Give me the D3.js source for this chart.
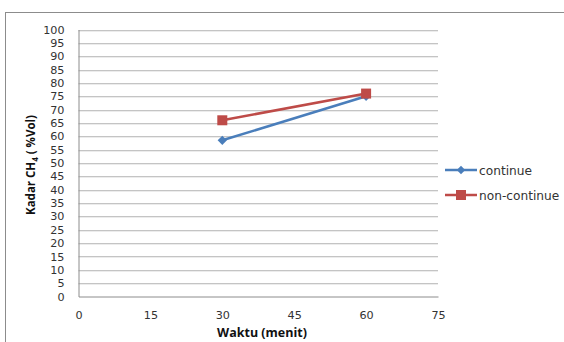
<!DOCTYPE html>
<html><head><meta charset="utf-8">
<script src="https://cdn.jsdelivr.net/npm/d3@7"></script>
<style>body{margin:0;background:#fff}svg{display:block}</style>
</head><body>
<svg id="c" width="564" height="342"></svg>
<script>
const xValues = [30, 60];
const continueValues = [58.5, 75];
const nonContinueValues = [66, 76];
const xTicks = [0, 15, 30, 45, 60, 75];
const yTicks = d3.range(0, 101, 5);
const seriesNames = ["continue", "non-continue"];
const colors = ["#4a7ebb", "#be4b48"];

const svg = d3.select("#c");
const font = "'DejaVu Sans', Verdana, sans-serif";
const tfont = "'Open Sans', 'DejaVu Sans', sans-serif";
svg.append("rect").attr("x", 5.5).attr("y", 12.5).attr("width", 600).attr("height", 400)
  .attr("fill", "#fff").attr("stroke", "#8c8c8c").attr("stroke-width", 1);

const x = d3.scaleLinear().domain([0, 75]).range([78.5, 438]);
const y = d3.scaleLinear().domain([0, 100]).range([296.5, 29.5]);

// gridlines
svg.append("g").selectAll("line").data(yTicks.filter(d => d > 0)).join("line")
  .attr("x1", x(0)).attr("x2", x(75)).attr("y1", d => Math.round(y(d)) + 0.5).attr("y2", d => Math.round(y(d)) + 0.5)
  .attr("stroke", "#c4c4c4").attr("stroke-width", 1);
svg.append("g").selectAll("line").data(yTicks.filter(d => d > 0)).join("line")
  .attr("x1", x(0)).attr("x2", x(75)).attr("y1", d => Math.round(y(d)) + 1.5).attr("y2", d => Math.round(y(d)) + 1.5)
  .attr("stroke", "#ececec").attr("stroke-width", 1);

// axes
const yAxis = d3.axisLeft(y).tickValues(yTicks).tickSize(0).tickPadding(14);
const gy = svg.append("g").attr("transform", `translate(${x(0)},0)`).call(yAxis);
gy.select(".domain").attr("stroke", "#8c8c8c");
gy.selectAll("text").attr("font-family", font).attr("font-size", 11.2).attr("fill", "#333");

const xAxis = d3.axisBottom(x).tickValues(xTicks).tickSize(0).tickPadding(15);
const gx = svg.append("g").attr("transform", `translate(0,${y(0)})`).call(xAxis);
gx.select(".domain").attr("stroke", "#8c8c8c");
gx.selectAll("text").attr("font-family", font).attr("font-size", 11.2).attr("fill", "#333");

// titles
svg.append("text").attr("x", 262).attr("y", 337).attr("text-anchor", "middle")
  .attr("font-family", tfont).attr("font-size", 12.5).attr("font-weight", "bold").attr("fill", "#111")
  .text("Waktu (menit)");
const yt = svg.append("text").attr("transform", "translate(35,165) rotate(-90)").attr("text-anchor", "middle")
  .attr("font-family", tfont).attr("font-size", 11.5).attr("font-weight", "bold").attr("fill", "#111");
yt.append("tspan").text("Kadar CH");
yt.append("tspan").attr("font-size", 8).attr("dy", 3).text("4");
yt.append("tspan").attr("dy", -3).text(" ( %Vol)");

// series
const data = [continueValues, nonContinueValues];
const line = d3.line().x((d, i) => x(xValues[i])).y(d => y(d));
data.forEach((vals, s) => {
  svg.append("path").datum(vals).attr("d", line).attr("fill", "none")
    .attr("stroke", colors[s]).attr("stroke-width", 2.5);
  vals.forEach((v, i) => {
    if (s === 0) {
      svg.append("path").attr("d", d3.symbol(d3.symbolDiamond2, 55)())
        .attr("transform", `translate(${x(xValues[i])},${y(v)})`).attr("fill", colors[s]);
    } else {
      svg.append("rect").attr("x", x(xValues[i]) - 5).attr("y", y(v) - 5).attr("width", 10).attr("height", 10)
        .attr("fill", colors[s]);
    }
  });
});

// legend
const ly = [170, 195];
seriesNames.forEach((n, s) => {
  svg.append("line").attr("x1", 445).attr("x2", 477).attr("y1", ly[s]).attr("y2", ly[s])
    .attr("stroke", colors[s]).attr("stroke-width", 2.5);
  if (s === 0) {
    svg.append("path").attr("d", d3.symbol(d3.symbolDiamond2, 45)())
      .attr("transform", `translate(461,${ly[s]})`).attr("fill", colors[s]);
  } else {
    svg.append("rect").attr("x", 456).attr("y", ly[s] - 5).attr("width", 10).attr("height", 10).attr("fill", colors[s]);
  }
  svg.append("text").attr("x", 479).attr("y", ly[s] + 4.5).attr("font-family", font).attr("font-size", 12.2)
    .attr("fill", "#333").text(n);
});
</script>
</body></html>
